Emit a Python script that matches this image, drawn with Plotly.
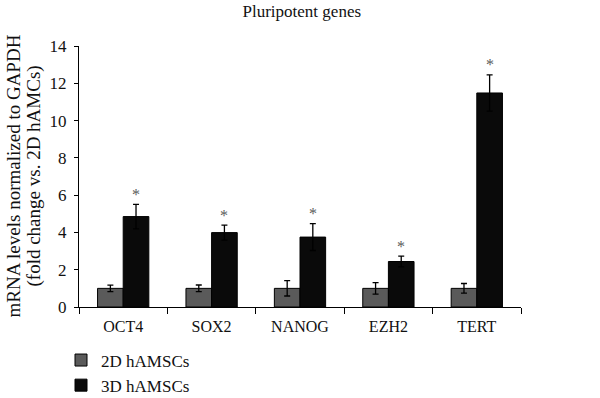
import plotly.graph_objects as go

genes = ["OCT4", "SOX2", "NANOG", "EZH2", "TERT"]
vals_2d = [1.0, 1.0, 1.0, 1.0, 1.0]
err_2d = [0.17, 0.18, 0.41, 0.31, 0.26]
vals_3d = [4.85, 3.99, 3.75, 2.44, 11.48]
err_3d = [0.66, 0.40, 0.72, 0.29, 0.97]
sig_3d = ["*", "*", "*", "*", "*"]
ytitle_lines = ["mRNA levels normalized to GAPDH", "(fold change vs. 2D hAMCs)"]

font_family = "Liberation Serif"
txt = "#111111"

fig = go.Figure()
fig.add_trace(go.Bar(
    name="2D hAMSCs", x=genes, y=vals_2d,
    marker=dict(color="#5a5a5a", line=dict(color="#000000", width=1)),
    error_y=dict(type="data", array=err_2d, visible=True, color="#000000", thickness=1.3, width=3),
))
fig.add_trace(go.Bar(
    name="3D hAMSCs", x=genes, y=vals_3d,
    marker=dict(color="#0a0a0a", line=dict(color="#000000", width=1)),
    error_y=dict(type="data", array=err_3d, visible=True, color="#000000", thickness=1.3, width=3),
))

for g, v, e, s in zip(genes, vals_3d, err_3d, sig_3d):
    fig.add_annotation(x=g, y=v + e, text=s, showarrow=False, xshift=12.8, yshift=10,
                       font=dict(family=font_family, size=16, color="#5a5a5a"))

for line, xs in zip(ytitle_lines, [-66, -46]):
    fig.add_annotation(xref="paper", yref="paper", x=0, y=0.5, xanchor="center", yanchor="middle",
                       text=line, textangle=-90, showarrow=False, xshift=xs,
                       font=dict(family=font_family, size=19, color=txt))

fig.update_layout(
    width=600, height=398,
    margin=dict(l=79, r=79, t=46, b=91, autoexpand=False),
    paper_bgcolor="white", plot_bgcolor="white",
    barmode="group", bargap=0.42, bargroupgap=0,
    font=dict(family=font_family, size=16, color=txt),
    title=dict(text="Pluripotent genes", x=0.503, xanchor="center", y=0.972, yanchor="middle",
               font=dict(family=font_family, size=17, color=txt)),
    showlegend=True,
    legend=dict(x=-0.0407, xanchor="left", y=-0.136, yanchor="top", orientation="v",
                font=dict(family=font_family, size=17, color=txt),
                bgcolor="rgba(0,0,0,0)"),
    xaxis=dict(showline=True, linecolor="#000000", linewidth=1.3, ticks="outside",
               tickson="boundaries", ticklen=6, tickcolor="#000000", tickwidth=1.3, showgrid=False,
               ticklabelstandoff=5, tickfont=dict(family=font_family, size=16, color=txt)),
    yaxis=dict(range=[0, 14], dtick=2, showline=True, linecolor="#000000", linewidth=1.3,
               ticks="outside", ticklen=4, tickcolor="#000000", tickwidth=1.3, showgrid=False,
               zeroline=False, ticklabelstandoff=4,
               tickfont=dict(family=font_family, size=17, color=txt)),
)

fig.write_html("out.html", config={"displayModeBar": False},
               post_script="document.body.style.margin='0';document.body.style.overflow='hidden';")
